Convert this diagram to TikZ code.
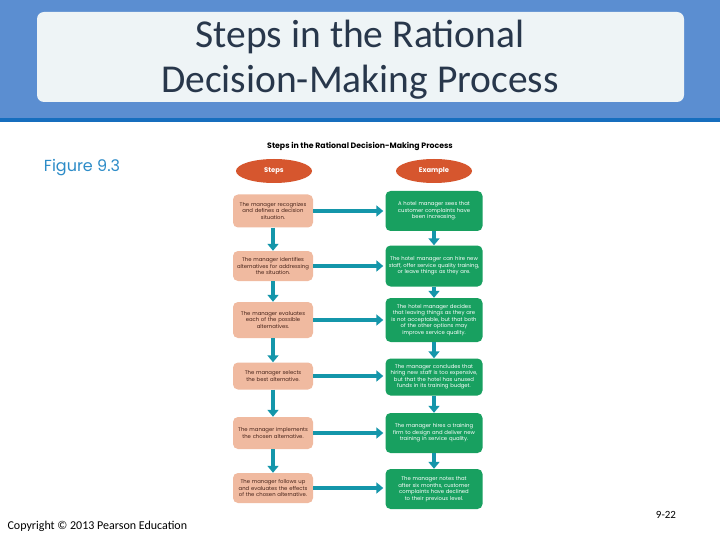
\documentclass[tikz,border=0pt]{standalone}
\usepackage{fontspec}
\setmainfont{Carlito}
\newfontfamily\figfont{Poppins}
\usetikzlibrary{arrows.meta,shapes.geometric}
\definecolor{bandblue}{RGB}{91,142,209}
\definecolor{lineblue}{RGB}{22,110,190}
\definecolor{titlebox}{RGB}{238,244,246}
\definecolor{titletext}{RGB}{40,55,75}
\definecolor{ovalred}{RGB}{214,86,46}
\definecolor{stepfill}{RGB}{240,186,160}
\definecolor{steptext}{RGB}{70,35,25}
\definecolor{exgreen}{RGB}{24,160,96}
\definecolor{arrowteal}{RGB}{20,150,170}
\definecolor{figblue}{RGB}{45,140,200}
\begin{document}
\begin{tikzpicture}[x=1pt,y=-1pt,
  stepbox/.style={fill=stepfill,rounded corners=5pt,minimum width=80pt,text width=79pt,
    align=center,inner sep=0.5pt,text=steptext,font=\figfont\fontsize{5.3}{6.5}\selectfont},
  exbox/.style={fill=exgreen,rounded corners=5pt,minimum width=97pt,text width=96pt,
    align=center,inner sep=0.5pt,text=white,font=\figfont\fontsize{5.3}{6.5}\selectfont},
  headoval/.style={ellipse,fill=ovalred,minimum width=76pt,minimum height=24pt,inner sep=0pt,
    text=white,font=\figfont\bfseries\fontsize{6.8}{7}\selectfont},
  flow/.style={arrowteal,line width=3.5pt,-{Triangle[length=7pt,width=11pt]}}]
\useasboundingbox (0,0) rectangle (720,540);
% slide frame
\fill[white] (0,0) rectangle (720,540);
\fill[bandblue] (0,0) rectangle (720,118);
\fill[lineblue] (0,118) rectangle (720,122);
\fill[titlebox,rounded corners=7pt] (37,12) rectangle (684,102);
\node[text=titletext,align=center,font=\fontsize{39.5}{45}\selectfont] (title) at (360,60)
  {Steps in the Rational\\Decision-Making Process};
\node[text=figblue,font=\figfont\fontsize{16}{17}\selectfont] (fig) at (82,168) {Figure 9.3};
\node[font=\figfont\bfseries\fontsize{7.8}{8}\selectfont] (head) at (360,146)
  {Steps in the Rational Decision-Making Process};
% column heads
\node[headoval] (steps) at (274,171) {Steps};
\node[headoval] (example) at (434,171) {Example};
% steps
\node[stepbox,minimum height=33pt] (s1) at (273,211) {The manager recognizes\\and defines a decision\\situation.};
\node[stepbox,minimum height=30pt] (s2) at (273,266) {The manager identifies\\alternatives for addressing\\the situation.};
\node[stepbox,minimum height=36pt] (s3) at (273,320) {The manager evaluates\\each of the possible\\alternatives.};
\node[stepbox,minimum height=27pt] (s4) at (273,376) {The manager selects\\the best alternative.};
\node[stepbox,minimum height=32pt] (s5) at (273,433) {The manager implements\\the chosen alternative.};
\node[stepbox,minimum height=30pt] (s6) at (273,488) {The manager follows up\\and evaluates the effects\\of the chosen alternative.};
% examples
\node[exbox,minimum height=40pt] (e1) at (434,211) {A hotel manager sees that\\customer complaints have\\been increasing.};
\node[exbox,minimum height=41pt] (e2) at (434,266) {The hotel manager can hire new\\staff, offer service quality training,\\or leave things as they are.};
\node[exbox,minimum height=44pt] (e3) at (434,320) {The hotel manager decides\\that leaving things as they are\\is not acceptable, but that both\\of the other options may\\improve service quality.};
\node[exbox,minimum height=37pt] (e4) at (434,377) {The manager concludes that\\hiring new staff is too expensive,\\but that the hotel has unused\\funds in its training budget.};
\node[exbox,minimum height=40pt] (e5) at (434,433) {The manager hires a training\\firm to design and deliver new\\training in service quality.};
\node[exbox,minimum height=40pt] (e6) at (434,489) {The manager notes that\\after six months, customer\\complaints have declined\\to their previous level.};
% arrows
\foreach \i in {1,...,6}
  \draw[flow] (s\i.east) -- ([xshift=-2pt]s\i.east -| e\i.west);
\foreach \i/\j in {1/2,2/3,3/4,4/5,5/6} {
  \draw[flow] (s\i.south) -- (s\j.north);
  \draw[flow] (e\i.south) -- (e\j.north);
}
% footer
\node[anchor=west,font=\fontsize{12}{14}\selectfont] (copy) at (4,526) {Copyright \textcopyright{} 2013 Pearson Education};
\node[font=\fontsize{11}{12}\selectfont] (page) at (666,515) {9-22};
\end{tikzpicture}
\end{document}
